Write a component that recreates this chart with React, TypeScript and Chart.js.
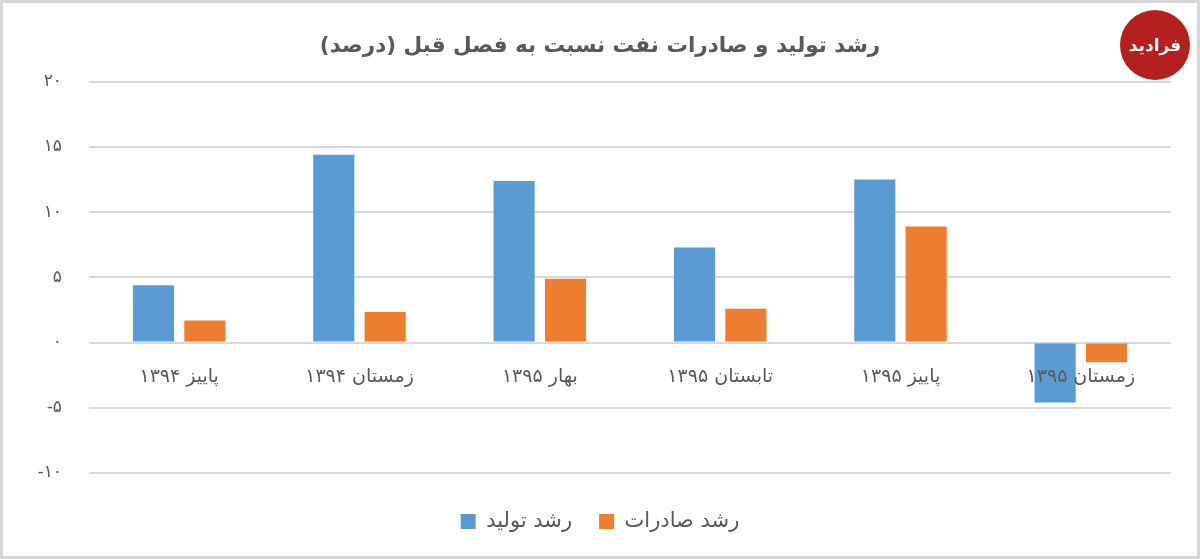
import React, { useEffect, useRef } from "react";
import { Chart, registerables } from "chart.js";

Chart.register(...registerables);

const chartTitle = "رشد تولید و صادرات نفت نسبت به فصل قبل (درصد)";
const categories = [
  "پاییز ۱۳۹۴",
  "زمستان ۱۳۹۴",
  "بهار ۱۳۹۵",
  "تابستان ۱۳۹۵",
  "پاییز ۱۳۹۵",
  "زمستان ۱۳۹۵",
];
const productionLabel = "رشد تولید";
const exportLabel = "رشد صادرات";
const productionGrowth = [4.4, 14.4, 12.4, 7.3, 12.5, -4.6];
const exportGrowth = [1.7, 2.35, 4.9, 2.6, 8.9, -1.5];
const yMin = -10;
const yMax = 20;
const yStep = 5;

const FA_DIGITS = ["۰", "۱", "۲", "۳", "۴", "۵", "۶", "۷", "۸", "۹"];
function toFa(v: number): string {
  const s = String(Math.abs(v)).replace(/[0-9]/g, (d) => FA_DIGITS[Number(d)]);
  return v < 0 ? "-" + s : s;
}

const FONT = "'DejaVu Sans', 'Noto Sans', sans-serif";
const TEXT = "#595959";

export default function App() {
  const ref = useRef<HTMLCanvasElement | null>(null);

  useEffect(() => {
    if (!ref.current) return;
    const chart = new Chart(ref.current, {
      type: "bar",
      data: {
        labels: categories,
        datasets: [
          {
            label: productionLabel,
            data: productionGrowth,
            backgroundColor: "#5B9BD5",
            categoryPercentage: 0.57,
            barPercentage: 0.8,
          },
          {
            label: exportLabel,
            data: exportGrowth,
            backgroundColor: "#ED7D31",
            categoryPercentage: 0.57,
            barPercentage: 0.8,
          },
        ],
      },
      options: {
        responsive: false,
        maintainAspectRatio: false,
        animation: false,
        layout: { padding: { left: 0, right: 0, top: 0, bottom: 17 } },
        plugins: {
          title: {
            display: true,
            text: chartTitle,
            color: TEXT,
            font: { family: FONT, size: 21.5, weight: "bold", lineHeight: 1.2 },
            padding: { top: 34, bottom: 22 },
          },
          legend: {
            position: "bottom",
            title: {
              display: true,
              text: "",
              font: { size: 1, lineHeight: 1 },
              padding: { top: 10, bottom: 0 },
            },
            labels: {
              boxWidth: 15,
              boxHeight: 15,
              padding: 27,
              color: TEXT,
              font: { family: FONT, size: 21 },
            },
          },
          tooltip: { enabled: false },
        },
        scales: {
          x: {
            position: { y: 0 } as any,
            grid: { display: false },
            border: { display: false },
            ticks: {
              z: 1,
              color: TEXT,
              font: { family: FONT, size: 19 },
              padding: 15,
              maxRotation: 0,
              autoSkip: false,
            },
          },
          y: {
            min: yMin,
            max: yMax,
            grid: { color: "#D9D9D9", lineWidth: 2, drawTicks: false },
            border: { display: false },
            ticks: {
              stepSize: yStep,
              color: TEXT,
              font: { family: FONT, size: 17 },
              padding: 27,
              callback: (v: any) => toFa(Number(v)),
            },
            afterFit: (s: any) => {
              s.width = 89;
            },
          },
          yRightSpace: {
            position: "right",
            min: yMin,
            max: yMax,
            grid: { display: false, drawTicks: false },
            border: { display: false },
            ticks: { display: false },
            afterFit: (s: any) => {
              s.width = 29;
            },
          },
        },
      },
    });
    return () => chart.destroy();
  }, []);

  return (
    <div
      style={{
        position: "fixed",
        left: 0,
        top: 0,
        width: 1200,
        height: 559,
        background: "#fff",
      }}
    >
      <canvas
        ref={ref}
        width={1200}
        height={559}
        style={{ position: "absolute", left: 0, top: 0, width: 1200, height: 559 }}
      />
      <div
        style={{
          position: "absolute",
          left: 1120,
          top: 10,
          width: 70,
          height: 70,
          borderRadius: "50%",
          background: "#B3201F",
          color: "#fff",
          display: "flex",
          alignItems: "center",
          justifyContent: "center",
          fontFamily: FONT,
          fontWeight: "bold",
          fontSize: 17,
          direction: "rtl",
        }}
      >
        فرادید
      </div>
      <div
        style={{
          position: "absolute",
          left: 0,
          top: 0,
          width: 1200,
          height: 559,
          boxSizing: "border-box",
          border: "3px solid #D6D6D6",
          pointerEvents: "none",
        }}
      />
    </div>
  );
}
